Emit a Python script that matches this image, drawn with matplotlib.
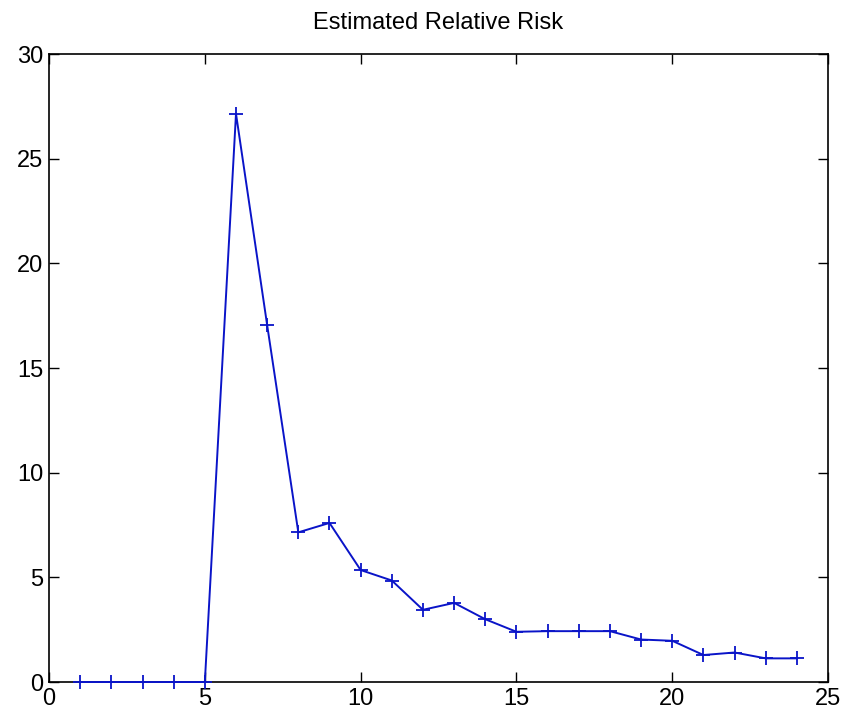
import numpy as np
from matplotlib import pyplot as plt

plt.rcParams['font.family'] = ['Liberation Sans', 'DejaVu Sans']

t = np.arange(1, 25)
risk = [0, 0, 0, 0, 0, 27.15, 17.05, 7.15, 7.6, 5.35,
        4.85, 3.45, 3.78, 3.0, 2.4, 2.43, 2.43, 2.43, 2.03, 1.97,
        1.29, 1.41, 1.13, 1.13]

fig = plt.figure(figsize=(8.44, 7.12), dpi=100)
ax = fig.add_axes([0.0581, 0.0421, 0.923, 0.882])
ax.plot(t, risk, color='#0a14c8', lw=1.4, marker='+', markersize=10,
        markeredgewidth=1.3, clip_on=False, zorder=3)

ax.set_xlim(0, 25)
ax.set_ylim(0, 30)
ax.set_xticks(np.arange(0, 26, 5))
ax.set_yticks(np.arange(0, 31, 5))
ax.tick_params(direction='in', top=True, right=True, labelsize=17, length=7, width=1, pad=4)
for s in ax.spines.values():
    s.set_linewidth(1.2)
ax.set_title('Estimated Relative Risk', fontsize=17, pad=18)

plt.savefig('out.png', dpi=100)
